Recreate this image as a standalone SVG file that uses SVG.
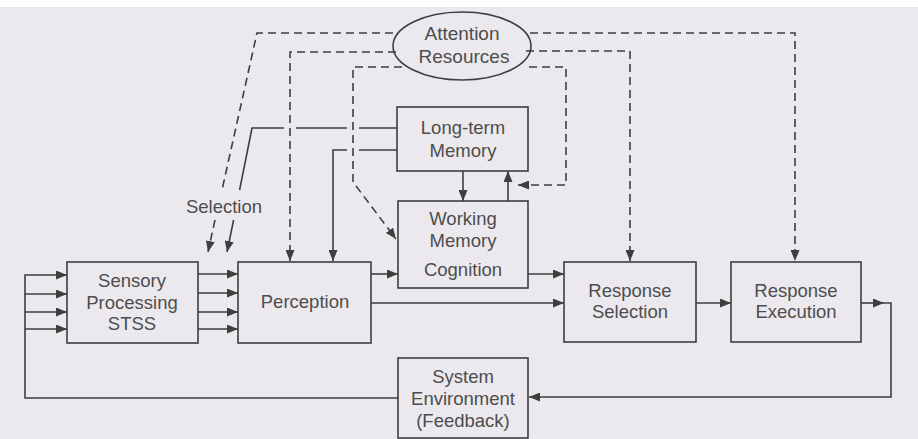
<svg xmlns="http://www.w3.org/2000/svg" width="918" height="439" viewBox="0 0 918 439">
<style>
  .bg{fill:#ebe9ee}
  .box{fill:none;stroke:#3e3e3e;stroke-width:1.6}
  .t{font-family:"Liberation Sans",Arial,sans-serif;font-size:18.5px;fill:#4d4d4d;text-anchor:middle}
  .s{fill:none;stroke:#3e3e3e;stroke-width:1.6}
  .d{fill:none;stroke:#3e3e3e;stroke-width:1.6;stroke-dasharray:8 5}
</style>
<defs>
  <marker id="ah" markerUnits="userSpaceOnUse" markerWidth="11" markerHeight="9" refX="11" refY="4.5" orient="auto">
    <path d="M0,0 L11,4.5 L0,9 z" fill="#3e3e3e"/>
  </marker>
</defs>
<rect class="bg" x="0" y="0" width="918" height="439"/>
<rect x="0" y="0" width="918" height="7" fill="#ffffff"/>

<g id="connectors">
  <!-- attention dashed links -->
  <polyline class="d" points="393,33 257,33 222,190"/>
  <line class="d" x1="215" y1="220" x2="208" y2="252" marker-end="url(#ah)"/>
  <polyline class="d" points="396,52 290,52 290,261" marker-end="url(#ah)"/>
  <polyline class="d" points="402,67 353,67 353,182 396,239" marker-end="url(#ah)"/>
  <polyline class="d" points="529,67 566,67 566,185 518,185" marker-end="url(#ah)"/>
  <polyline class="d" points="526,51 630,51 630,261" marker-end="url(#ah)"/>
  <polyline class="d" points="530,33 795,33 795,261" marker-end="url(#ah)"/>
  <!-- long-term memory to selection / perception (solid, broken at crossings) -->
  <polyline class="s" points="284,128 252,128 239.6,190"/>
  <line class="s" x1="233.6" y1="220" x2="227" y2="252" marker-end="url(#ah)"/>
  <line class="s" x1="296" y1="128" x2="347" y2="128"/>
  <line class="s" x1="359" y1="128" x2="397" y2="128"/>
  <polyline class="s" points="347,150 333,150 333,261" marker-end="url(#ah)"/>
  <line class="s" x1="359" y1="150" x2="397" y2="150"/>
  <!-- LTM <-> WM -->
  <line class="s" x1="463" y1="171" x2="463" y2="201" marker-end="url(#ah)"/>
  <line class="s" x1="508" y1="201" x2="508" y2="171" marker-end="url(#ah)"/>
  <!-- inputs to sensory -->
  <polyline class="s" points="398,398 25,398 25,275 67,275" marker-end="url(#ah)"/>
  <line class="s" x1="25" y1="294" x2="67" y2="294" marker-end="url(#ah)"/>
  <line class="s" x1="25" y1="312" x2="67" y2="312" marker-end="url(#ah)"/>
  <line class="s" x1="25" y1="329" x2="67" y2="329" marker-end="url(#ah)"/>
  <!-- sensory to perception -->
  <line class="s" x1="198" y1="274" x2="238" y2="274" marker-end="url(#ah)"/>
  <line class="s" x1="198" y1="293" x2="238" y2="293" marker-end="url(#ah)"/>
  <line class="s" x1="198" y1="312" x2="238" y2="312" marker-end="url(#ah)"/>
  <line class="s" x1="198" y1="329" x2="238" y2="329" marker-end="url(#ah)"/>
  <!-- perception to WM and response selection -->
  <line class="s" x1="371" y1="274" x2="398" y2="274" marker-end="url(#ah)"/>
  <line class="s" x1="371" y1="303" x2="564" y2="303" marker-end="url(#ah)"/>
  <line class="s" x1="528" y1="274" x2="564" y2="274" marker-end="url(#ah)"/>
  <!-- selection to execution -->
  <line class="s" x1="696" y1="303" x2="731" y2="303" marker-end="url(#ah)"/>
  <!-- execution to environment -->
  <line class="s" x1="861" y1="303" x2="884" y2="303" marker-end="url(#ah)"/>
  <polyline class="s" points="884,303 891,303 891,397 529,397" marker-end="url(#ah)"/>
</g>

<g id="attention">
  <ellipse cx="462" cy="46" rx="69" ry="34" fill="none" stroke="#3e3e3e" stroke-width="1.6"/>
  <text class="t" x="462" y="40" style="font-size:19px">Attention</text>
  <text class="t" x="464" y="63" style="font-size:19px">Resources</text>
</g>
<g id="selection-label">
  <text class="t" x="224" y="213">Selection</text>
</g>
<g id="sensory">
  <rect class="box" x="67" y="262" width="131" height="81"/>
  <text class="t" x="132" y="287">Sensory</text>
  <text class="t" x="132" y="309">Processing</text>
  <text class="t" x="132" y="330">STSS</text>
</g>
<g id="perception">
  <rect class="box" x="238" y="262" width="133" height="81"/>
  <text class="t" x="305" y="308">Perception</text>
</g>
<g id="ltm">
  <rect class="box" x="397" y="107" width="131" height="64"/>
  <text class="t" x="463" y="134">Long-term</text>
  <text class="t" x="463" y="157">Memory</text>
</g>
<g id="wm">
  <rect class="box" x="398" y="201" width="130" height="87"/>
  <text class="t" x="463" y="225">Working</text>
  <text class="t" x="463" y="247">Memory</text>
  <text class="t" x="463" y="276">Cognition</text>
</g>
<g id="response-selection">
  <rect class="box" x="564" y="262" width="132" height="80"/>
  <text class="t" x="630" y="297">Response</text>
  <text class="t" x="630" y="318">Selection</text>
</g>
<g id="response-execution">
  <rect class="box" x="731" y="262" width="130" height="80"/>
  <text class="t" x="796" y="297">Response</text>
  <text class="t" x="796" y="318">Execution</text>
</g>
<g id="environment">
  <rect class="box" x="398" y="358" width="130" height="80"/>
  <text class="t" x="463" y="383">System</text>
  <text class="t" x="463" y="405">Environment</text>
  <text class="t" x="463" y="427">(Feedback)</text>
</g>
</svg>
